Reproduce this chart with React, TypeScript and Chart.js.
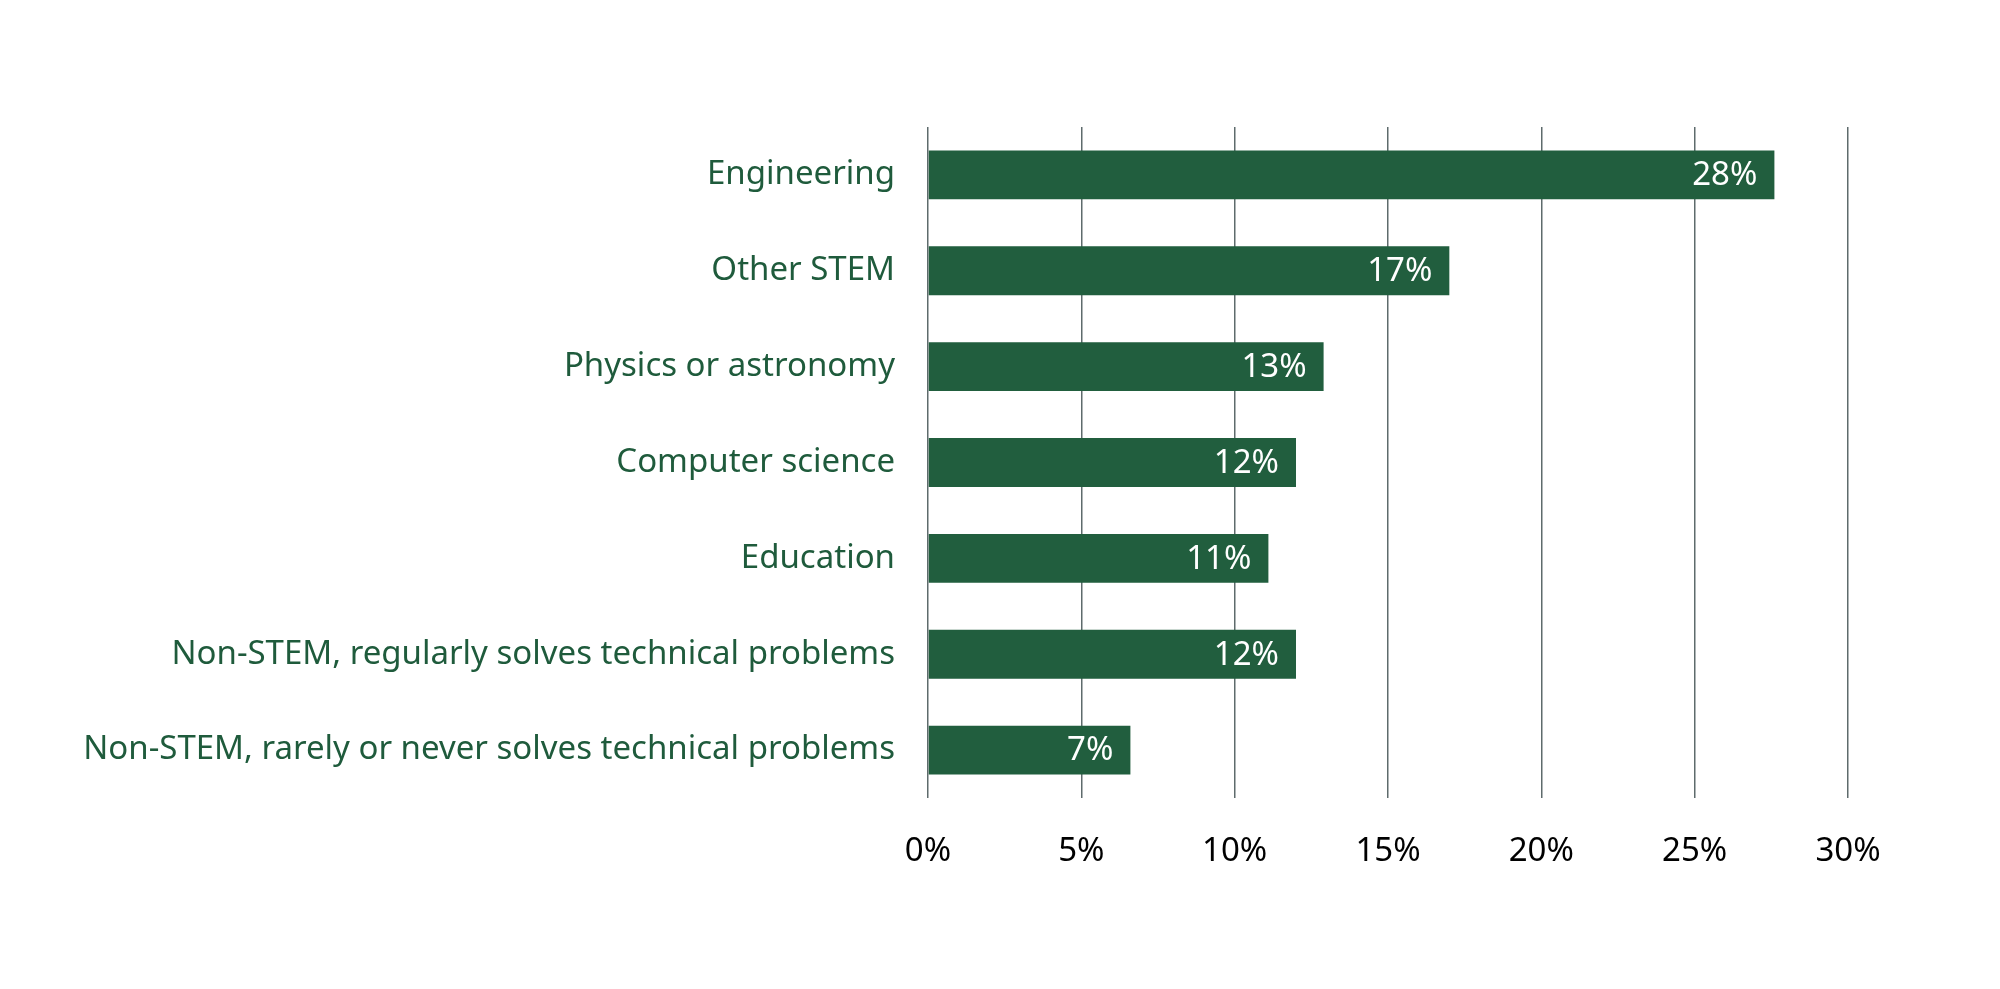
import React, { useEffect, useRef } from "react";
import { Chart, registerables } from "chart.js";
Chart.register(...registerables);

const categories = [
  "Engineering",
  "Other STEM",
  "Physics or astronomy",
  "Computer science",
  "Education",
  "Non-STEM, regularly solves technical problems",
  "Non-STEM, rarely or never solves technical problems",
];

// share of respondents, percent
const shares = [27.6, 17.0, 12.9, 12.0, 11.1, 12.0, 6.6];

const xTicks = [0, 5, 10, 15, 20, 25, 30];

const barColor = "#215e3e";
const labelGreen = "#1f5b3c";
const gridColor = "#5e6b6c";
const fontFamily = "'Noto Sans', 'Open Sans', sans-serif";

// writes the rounded value inside the end of each bar
const valueLabels = {
  id: "valueLabels",
  afterDatasetsDraw(chart: any) {
    const { ctx } = chart;
    const meta = chart.getDatasetMeta(0);
    ctx.save();
    ctx.font = `33px ${fontFamily}`;
    ctx.fillStyle = "#ffffff";
    ctx.textAlign = "right";
    ctx.textBaseline = "middle";
    meta.data.forEach((bar: any, i: number) => {
      ctx.fillText(`${Math.round(shares[i])}%`, bar.x - 17, bar.y + 1);
    });
    ctx.restore();
  },
};

export default function App() {
  const canvasRef = useRef<HTMLCanvasElement | null>(null);

  useEffect(() => {
    document.body.style.margin = "0";
    if (!canvasRef.current) return;

    const chart = new Chart(canvasRef.current, {
      type: "bar",
      data: {
        labels: categories,
        datasets: [
          {
            data: shares,
            backgroundColor: barColor,
            borderWidth: 0,
            barPercentage: 0.51,
            categoryPercentage: 1,
          },
        ],
      },
      options: {
        indexAxis: "y",
        responsive: true,
        maintainAspectRatio: false,
        animation: false,
        layout: { padding: { top: 127, right: 152, bottom: 0, left: 0 } },
        plugins: {
          legend: { display: false },
          tooltip: { enabled: false },
        },
        scales: {
          x: {
            min: 0,
            max: 30,
            afterBuildTicks: (scale: any) => {
              scale.ticks = xTicks.map((v) => ({ value: v }));
            },
            afterFit: (scale: any) => {
              scale.height = 191;
            },
            grid: {
              color: gridColor,
              lineWidth: 1.5,
              drawTicks: false,
            },
            border: { display: false },
            ticks: {
              padding: 34,
              color: "#000000",
              font: { family: fontFamily, size: 33 },
              callback: (v: any) => `${v}%`,
            },
          },
          y: {
            afterFit: (scale: any) => {
              scale.width = 928;
            },
            grid: { display: false, drawTicks: false },
            border: { display: false },
            ticks: {
              padding: 33,
              color: labelGreen,
              font: { family: fontFamily, size: 33 },
            },
          },
        },
      },
      plugins: [valueLabels],
    });

    return () => chart.destroy();
  }, []);

  return (
    <div style={{ width: "2000px", height: "989px", background: "#ffffff" }}>
      <canvas ref={canvasRef}></canvas>
    </div>
  );
}
